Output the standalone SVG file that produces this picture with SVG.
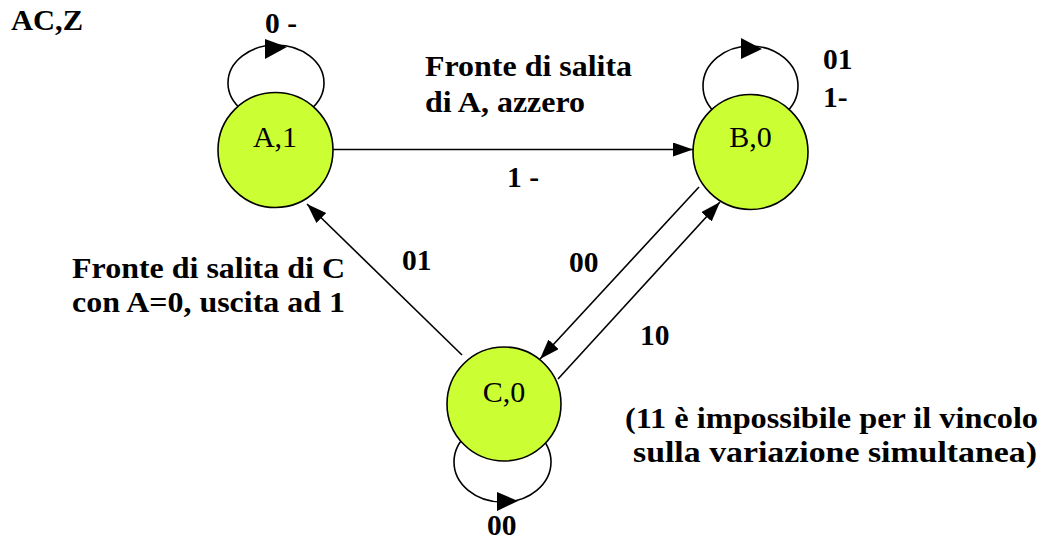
<svg xmlns="http://www.w3.org/2000/svg" width="1040" height="542" viewBox="0 0 1040 542">
<style>
text{font-family:'Liberation Serif','Times New Roman','DejaVu Serif',serif}
.lbl{font-weight:bold;font-size:29.5px;fill:#000}
.nlbl{font-size:30px;fill:#000;text-anchor:middle}
.st{fill:#CCFF33;stroke:#000;stroke-width:1.6}
.ln{fill:none;stroke:#000;stroke-width:1.6}
.ah{fill:#000}
</style>
<defs>
<marker id="arr" markerUnits="userSpaceOnUse" markerWidth="21" markerHeight="15" refX="20" refY="7" orient="auto">
<path d="M0,0 L20,7 L0,14 z" fill="#000"/>
</marker>
</defs>
<rect width="1040" height="542" fill="#fff"/>
<g id="connectors">
<ellipse class="ln" cx="276" cy="83" rx="48" ry="38"/>
<polygon class="ah" points="265,39 265,59 287,47"/>
<ellipse class="ln" cx="750.5" cy="86" rx="47.5" ry="40"/>
<polygon class="ah" points="741,38 741,59 762,49"/>
<ellipse class="ln" cx="502.5" cy="462" rx="48.5" ry="40"/>
<polygon class="ah" points="497,492 497,511 518,501"/>
<line class="ln" x1="330" y1="149.5" x2="693" y2="149.5" marker-end="url(#arr)"/>
<line class="ln" x1="699" y1="187" x2="540" y2="359" marker-end="url(#arr)"/>
<line class="ln" x1="558" y1="379" x2="720" y2="202" marker-end="url(#arr)"/>
<line class="ln" x1="462" y1="355" x2="307" y2="204" marker-end="url(#arr)"/>
</g>
<g id="nodeA">
<circle class="st" cx="275.5" cy="150" r="57.5"/>
<text class="nlbl" x="275" y="147">A,1</text>
</g>
<g id="nodeB">
<circle class="st" cx="750.5" cy="152" r="57.5"/>
<text class="nlbl" x="750.5" y="147">B,0</text>
</g>
<g id="nodeC">
<circle class="st" cx="504" cy="404" r="57"/>
<text class="nlbl" x="504" y="402">C,0</text>
</g>
<g id="labels">
<text class="lbl" x="11" y="30" textLength="72" lengthAdjust="spacingAndGlyphs">AC,Z</text>
<text class="lbl" x="265" y="33">0 -</text>
<text class="lbl" x="425" y="76" textLength="207" lengthAdjust="spacingAndGlyphs">Fronte di salita</text>
<text class="lbl" x="425" y="112" textLength="160" lengthAdjust="spacingAndGlyphs">di A, azzero</text>
<text class="lbl" x="823" y="69">01</text>
<text class="lbl" x="823" y="107">1-</text>
<text class="lbl" x="507" y="187">1 -</text>
<text class="lbl" x="72" y="278" textLength="273" lengthAdjust="spacingAndGlyphs">Fronte di salita di C</text>
<text class="lbl" x="72" y="312" textLength="273" lengthAdjust="spacingAndGlyphs">con A=0, uscita ad 1</text>
<text class="lbl" x="402" y="270">01</text>
<text class="lbl" x="569" y="272">00</text>
<text class="lbl" x="640" y="345">10</text>
<text class="lbl" x="625" y="428" textLength="413" lengthAdjust="spacingAndGlyphs">(11 è impossibile per il vincolo</text>
<text class="lbl" x="633" y="462" textLength="404" lengthAdjust="spacingAndGlyphs">sulla variazione simultanea)</text>
<text class="lbl" x="487" y="535">00</text>
</g>
</svg>
